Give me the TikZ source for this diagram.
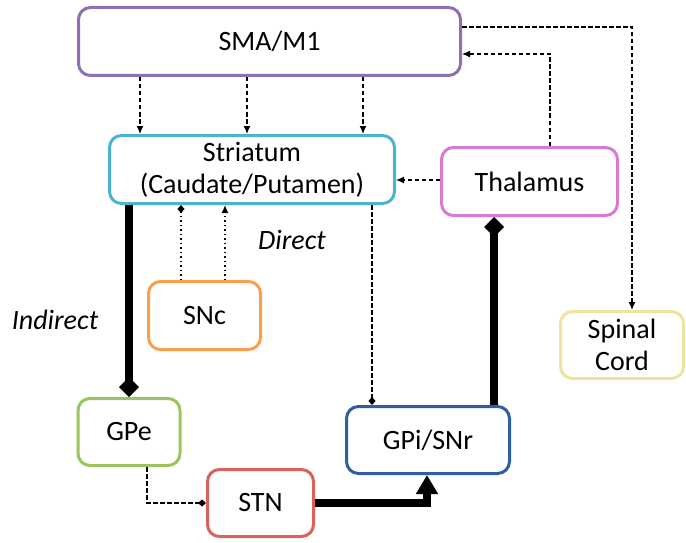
\documentclass[tikz,border=0pt]{standalone}
\usepackage{fontspec}
\setmainfont{Carlito}
\usetikzlibrary{arrows.meta}

\definecolor{cSMA}{HTML}{8E6FB4}
\definecolor{cStr}{HTML}{4BB4D0}
\definecolor{cThal}{HTML}{D67AD6}
\definecolor{cSNc}{HTML}{F9A04C}
\definecolor{cSpin}{HTML}{F0E39C}
\definecolor{cGPe}{HTML}{9BC45C}
\definecolor{cSTN}{HTML}{D9625A}
\definecolor{cGPi}{HTML}{2C60A0}

\tikzset{
  region/.style={draw, line width=3pt, rounded corners=12pt, fill=white,
    align=center, inner sep=0pt, font=\fontsize{28}{32}\selectfont},
  dsh/.style={line width=1.2pt, dash pattern=on 4.5pt off 2.5pt},
  dots/.style={line width=1.5pt, dash pattern=on 1.5pt off 3pt},
  thick path/.style={line width=8pt},
  smallarrow/.style={-{Latex[length=8pt,width=7pt]}},
  smalldiamond/.style={-{Diamond[length=8pt,width=7pt]}},
  bigdiamond/.style={-{Diamond[length=20pt,width=20pt]}},
  bigtriangle/.style={-{Triangle[length=19pt,width=21pt]}},
  pathlabel/.style={font=\fontsize{28}{32}\selectfont\itshape}
}

\begin{document}
\begin{tikzpicture}[x=1pt,y=-1pt]
\useasboundingbox (0,0) rectangle (686,543);

% brain regions
\node[region, draw=cSMA, minimum width=382pt, minimum height=68pt] (sma) at (269.5,41.5) {SMA/M1};
\node[region, draw=cStr, minimum width=285pt, minimum height=68pt] (str) at (252,169.5) {Striatum\\(Caudate/Putamen)};
\node[region, draw=cThal, minimum width=176pt, minimum height=68pt] (thal) at (529.5,181.5) {Thalamus};
\node[region, draw=cSNc, minimum width=112pt, minimum height=68pt] (snc) at (204.5,315.5) {SNc};
\node[region, draw=cSpin, minimum width=123pt, minimum height=67pt] (spin) at (622,345) {Spinal\\Cord};
\node[region, draw=cGPe, minimum width=102pt, minimum height=67pt] (gpe) at (129,432) {GPe};
\node[region, draw=cSTN, minimum width=106pt, minimum height=67pt] (stn) at (260.5,503) {STN};
\node[region, draw=cGPi, minimum width=163pt, minimum height=67pt] (gpi) at (428,440) {GPi/SNr};

% path labels
\node[pathlabel] (direct) at (292,240) {Direct};
\node[pathlabel] (indirect) at (55,320) {Indirect};

% cortex to striatum
\foreach \xx in {140,247,363}
  \draw[dsh, smallarrow] (sma.south -| \xx,0) -- (str.north -| \xx,0);

% cortex to spinal cord
\draw[dsh, smallarrow] (sma.east |- 0,27) -| (spin.north -| 632,0);

% thalamus to cortex and striatum
\draw[dsh, smallarrow] (thal.north -| 550,0) |- (sma.east |- 0,54);
\draw[dsh, smallarrow] (thal.west |- 0,180) -- (str.east |- 0,180);

% dopaminergic input from SNc
\draw[dots, smalldiamond] (snc.north -| 181,0) -- (str.south -| 181,0);
\draw[dots, smallarrow] (snc.north -| 225,0) -- (str.south -| 225,0);

% direct pathway
\draw[dsh, smalldiamond] (str.south -| 372,0) -- (gpi.north -| 372,0);

% indirect pathway
\draw[thick path, bigdiamond] (str.south -| gpe.north) -- (gpe.north);
\draw[dsh, smalldiamond] (gpe.south -| 147,0) |- (stn.west);
\draw[thick path, bigtriangle] (stn.east) -| (gpi.south -| 427,0);

% output to thalamus
\draw[thick path, bigdiamond] (gpi.north -| 494,0) -- (thal.south -| 494,0);
\end{tikzpicture}
\end{document}
